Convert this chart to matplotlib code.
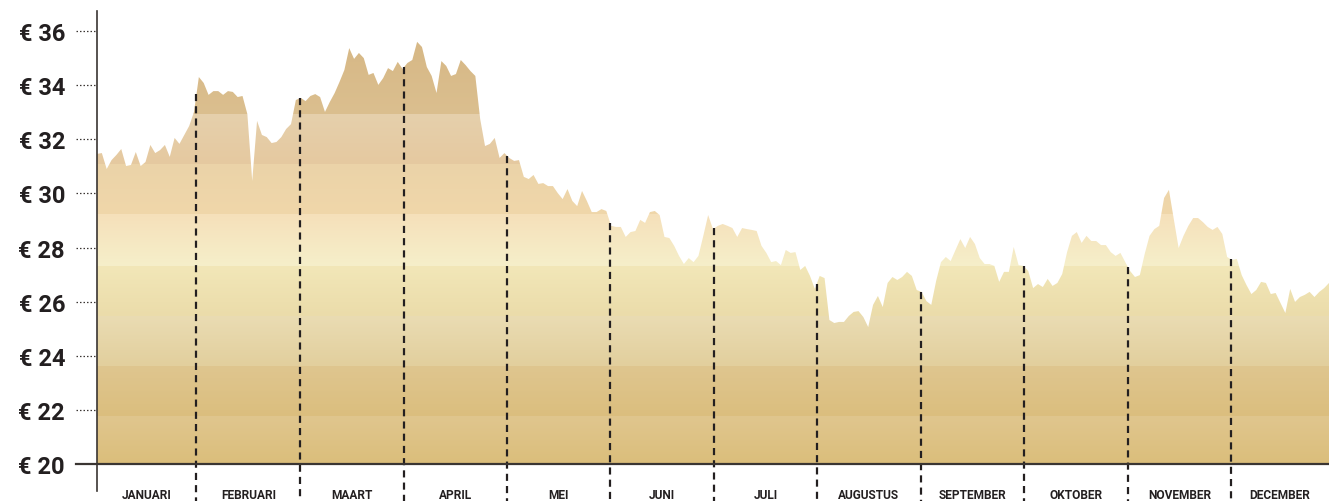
import numpy as np
import matplotlib
matplotlib.use("Agg")
import matplotlib.pyplot as plt
from matplotlib.colors import to_rgb

# closing price per trading day (euro)
prices = [
    31.46, 31.49, 30.90, 31.23, 31.42, 31.64, 31.01, 31.05, 31.53, 31.01,
    31.16, 31.79, 31.49, 31.60, 31.79, 31.35, 32.05, 31.83, 32.16, 32.49,
    33.01, 34.30, 34.08, 33.64, 33.78, 33.78, 33.64, 33.78, 33.75, 33.56,
    33.60, 32.93, 30.46, 32.68, 32.16, 32.08, 31.86, 31.90, 32.08, 32.38,
    32.56, 33.45, 33.53, 33.41, 33.60, 33.67, 33.56, 33.01, 33.38, 33.71,
    34.12, 34.56, 35.37, 34.97, 35.19, 35.00, 34.38, 34.45, 34.01, 34.26,
    34.63, 34.52, 34.86, 34.60, 34.82, 34.93, 35.60, 35.41, 34.67, 34.34,
    33.71, 34.89, 34.71, 34.34, 34.41, 34.93, 34.74, 34.52, 34.34, 32.75,
    31.75, 31.83, 32.05, 31.31, 31.49, 31.31, 31.20, 31.23, 30.61, 30.53,
    30.68, 30.35, 30.38, 30.27, 30.27, 30.01, 29.79, 30.16, 29.72, 29.53,
    30.09, 29.72, 29.31, 29.31, 29.42, 29.35, 28.80, 28.76, 28.76, 28.39,
    28.57, 28.61, 29.02, 28.91, 29.31, 29.35, 29.20, 28.39, 28.35, 28.06,
    27.69, 27.39, 27.61, 27.46, 27.69, 28.43, 29.20, 28.68, 28.80, 28.87,
    28.80, 28.72, 28.39, 28.72, 28.68, 28.65, 28.61, 28.06, 27.80, 27.46,
    27.50, 27.35, 27.91, 27.80, 27.83, 27.17, 27.32, 26.95, 26.47, 26.95,
    26.87, 25.32, 25.21, 25.25, 25.25, 25.47, 25.62, 25.65, 25.43, 25.06,
    25.88, 26.21, 25.80, 26.69, 26.91, 26.80, 26.91, 27.10, 26.95, 26.43,
    26.36, 26.02, 25.88, 26.76, 27.46, 27.65, 27.50, 27.91, 28.31, 27.98,
    28.39, 28.13, 27.61, 27.39, 27.39, 27.32, 26.73, 27.10, 27.10, 28.02,
    27.35, 27.32, 27.13, 26.50, 26.65, 26.54, 26.84, 26.58, 26.69, 27.02,
    27.83, 28.43, 28.57, 28.17, 28.43, 28.24, 28.24, 28.09, 28.09, 27.83,
    27.69, 27.80, 27.46, 27.13, 26.91, 26.98, 27.76, 28.43, 28.68, 28.80,
    29.83, 30.13, 29.05, 27.98, 28.43, 28.80, 29.09, 29.09, 28.94, 28.76,
    28.65, 28.76, 28.50, 27.65, 27.54, 27.58, 26.98, 26.61, 26.28, 26.43,
    26.73, 26.69, 26.28, 26.32, 25.95, 25.58, 26.47, 25.99, 26.17, 26.25,
    26.36, 26.17, 26.36, 26.50, 26.69,
]

months = ["JANUARI", "FEBRUARI", "MAART", "APRIL", "MEI", "JUNI", "JULI",
          "AUGUSTUS", "SEPTEMBER", "OKTOBER", "NOVEMBER", "DECEMBER"]
# trading-day index where each month starts (plus the end of the year)
month_edges = [0, 20.5, 41.9, 63.3, 84.5, 105.8, 127.2, 148.4, 169.9,
               191.1, 212.6, 233.8, 254]

y_ticks = [20, 22, 24, 26, 28, 30, 32, 34, 36]
y_tick_labels = ["€ %d" % v for v in y_ticks]

# colour bands of the fill: (low, high, colour at low, colour at high)
bands = [
    (20.00, 21.77, "#dbbe7b", "#e0c68e"),
    (21.77, 23.62, "#dbbe7e", "#dfc68f"),
    (23.62, 25.47, "#e2cf9d", "#eadcb3"),
    (25.47, 27.32, "#ebdcaa", "#f2e7b8"),
    (27.32, 29.24, "#f5efca", "#f6e0ba"),
    (29.24, 31.09, "#f0d7aa", "#ebd3a8"),
    (31.09, 32.93, "#e5c9a0", "#e6d0ac"),
    (32.93, 36.80, "#dbbf8f", "#d5b582"),
]

ink = "#231f20"
y_top = 36.74

fig = plt.figure(figsize=(13.29, 5.02), dpi=100)
ax = fig.add_axes([97 / 1329, 37 / 502, 1232 / 1329, 453 / 502])
x = np.arange(len(prices))
ax.set_xlim(0, len(prices) - 1)
ax.set_ylim(20, y_top)

# vertical gradient, clipped to the area under the price curve
rows = np.linspace(20, y_top, 1200)
grad = np.zeros((len(rows), 1, 3))
for lo, hi, c_lo, c_hi in bands:
    m = (rows >= lo) & (rows <= hi)
    t = ((rows[m] - lo) / (hi - lo))[:, None]
    grad[m, 0, :] = (1 - t) * np.array(to_rgb(c_lo)) + t * np.array(to_rgb(c_hi))
img = ax.imshow(grad, extent=(0, len(prices) - 1, 20, y_top), origin="lower",
                aspect="auto", interpolation="nearest", zorder=1)
area = ax.fill_between(x, 20, prices, facecolor="none", edgecolor="none")
img.set_clip_path(area.get_paths()[0], transform=ax.transData)

# month dividers from the curve down past the axis
for edge in month_edges[1:-1]:
    top = np.interp(edge, x, prices)
    ax.plot([edge, edge], [top, 18.3], color=ink, lw=1.6,
            dashes=(3.2, 2.3), clip_on=False, zorder=3)

# axes lines
for s in ax.spines.values():
    s.set_visible(False)
ax.plot([0, 0], [20 - 27 / 27.06, y_top], color="#3a3532", lw=1.2,
        clip_on=False, zorder=4)
ax.plot([-21 / 4.85, len(prices) - 1], [20, 20], color="#3a3532", lw=1.6,
        clip_on=False, zorder=4)
ax.hlines(y_ticks[1:], -21 / 4.85, 0, colors="#3a3532", lw=0.9,
          linestyles=(0, (1.2, 1.6)), clip_on=False)

ax.set_yticks(y_ticks)
ax.set_yticklabels(y_tick_labels, fontfamily="Roboto", fontweight="bold",
                   fontsize=17, color=ink)
ax.tick_params(axis="y", length=0, pad=23)
ax.set_xticks([])

for i, name in enumerate(months):
    mid = (month_edges[i] + month_edges[i + 1]) / 2
    ax.text(mid, -0.068, name, transform=ax.get_xaxis_transform(),
            ha="center", va="center", fontfamily="Roboto", fontweight="bold",
            fontsize=8.6, color=ink)

fig.savefig("out.png", dpi=100)
